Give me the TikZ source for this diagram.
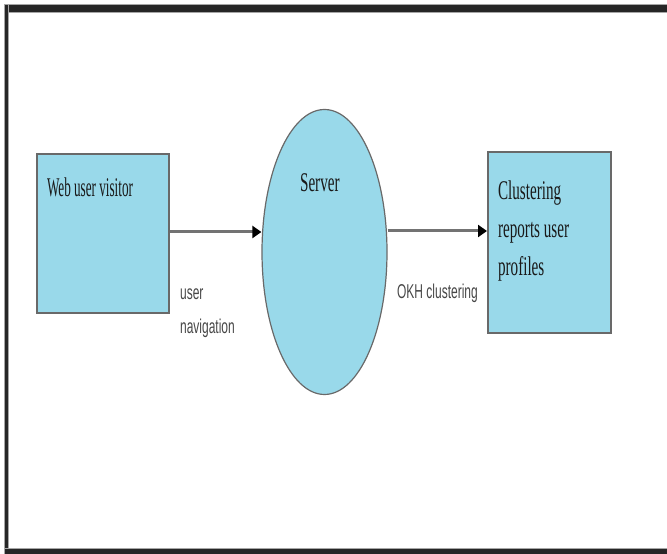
\documentclass[tikz,border=0pt]{standalone}
\usepackage{fontspec}
\setmainfont{Liberation Serif}
\newfontfamily\labelfont{Liberation Sans}
\usetikzlibrary{shapes.geometric,arrows.meta}
\definecolor{boxblue}{RGB}{153,217,234}
\definecolor{edgegray}{RGB}{105,105,105}
\begin{document}
\begin{tikzpicture}[x=1pt,y=1pt,
  box/.style={draw=edgegray, line width=2pt, fill=boxblue, inner sep=0pt},
  srv/.style={ellipse, draw=edgegray, line width=1.2pt, fill=boxblue, inner sep=0pt},
  title/.style={font=\fontsize{27}{38}\selectfont, text=black!90, xscale=0.56, transform shape, inner sep=0pt, align=left, anchor=north west},
  lab/.style={font=\labelfont\fontsize{20}{34}\selectfont, text=black!72, xscale=0.6, transform shape, inner sep=0pt, align=left, anchor=north west},
  arr/.style={draw=black!55, line width=3pt, -{Triangle[length=9pt,width=12pt,color=black]}},
  frame/.style={fill=black!85, draw=black!35, line width=0.8pt}]
\useasboundingbox (0,0) rectangle (667,554);
% frame (open on the right)
\fill[frame] (4,542) rectangle (667,550);
\fill[frame] (4,0) rectangle (8,550);
\fill[frame] (4,0) rectangle (667,6);
% shapes
\node[box, minimum width=132pt, minimum height=159pt] (web) at (103,320.5) {};
\node[srv, minimum width=125pt, minimum height=285pt] (server) at (324.5,302) {};
\node[box, minimum width=123pt, minimum height=181pt] (rep) at (549.5,311.5) {};
% texts
\node[title, xscale=0.87] (webtxt) at (47,376) {Web user visitor};
\node[title] (srvtxt) at (300,381) {Server};
\node[title] (reptxt) at (498,373) {Clustering\\reports user\\profiles};
\node[lab] (navtxt) at (180,265) {user\\navigation};
\node[lab] (okhtxt) at (397,270) {OKH clustering};
% connectors
\coordinate (a1) at (0,322);
\coordinate (a2) at (0,323);
\draw[arr] (web.east |- a1) -- (server.west |- a1);
\draw[arr] (server.east |- a2) -- (rep.west |- a2);
\end{tikzpicture}
\end{document}
